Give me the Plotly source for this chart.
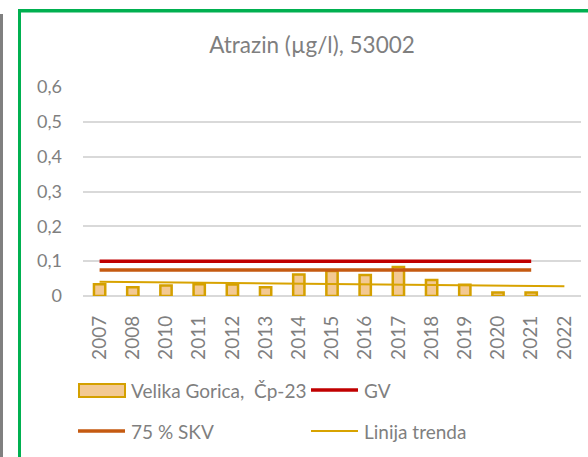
import plotly.graph_objects as go

# ---- data ----
years = ["2007", "2008", "2010", "2011", "2012", "2013", "2014", "2015",
         "2016", "2017", "2018", "2019", "2020", "2021", "2022"]
atrazin = [0.034, 0.025, 0.030, 0.034, 0.033, 0.025, 0.062, 0.072,
           0.060, 0.083, 0.046, 0.032, 0.010, 0.010, None]
gv_years = ["2007", "2021"]
gv_values = [0.1, 0.1]
skv_years = ["2007", "2021"]
skv_values = [0.075, 0.075]
trend_years = ["2007", "2022"]
trend_values = [0.041, 0.028]
y_tickvals = [0, 0.1, 0.2, 0.3, 0.4, 0.5, 0.6]
y_ticktext = ["0", "0,1", "0,2", "0,3", "0,4", "0,5", "0,6"]

title_text = "Atrazin (µg/l), 53002"
name_bar = "Velika Gorica,  Čp-23"
name_gv = "GV"
name_skv = "75 % SKV"
name_trend = "Linija trenda"

# ---- style ----
W, H = 588, 457
ML, MR, MT, MB = 83, 7, 87, 161
PW, PH = W - ML - MR, H - MT - MB
FONT = "Lato"
GRAY = "#7f7f7f"
BAR_FILL = "#F3C993"
BAR_LINE = "#D4A000"
GV_COL = "#C00000"
SKV_COL = "#C55A11"
TREND_COL = "#D8A300"


def px(x):
    return (x - ML) / PW


def py(y):
    return (H - MB - y) / PH


def keep_spaces(s):
    return s.replace("  ", " \u00a0")


fig = go.Figure()
fig.add_trace(go.Bar(x=years, y=atrazin, name=name_bar, width=0.34,
                     marker=dict(color=BAR_FILL, line=dict(color=BAR_LINE, width=2.5)),
                     showlegend=False))
fig.add_trace(go.Scatter(x=gv_years, y=gv_values, name=name_gv, mode="lines",
                         line=dict(color=GV_COL, width=3.5), showlegend=False))
fig.add_trace(go.Scatter(x=skv_years, y=skv_values, name=name_skv, mode="lines",
                         line=dict(color=SKV_COL, width=3.5), showlegend=False))
fig.add_trace(go.Scatter(x=trend_years, y=trend_values, name=name_trend, mode="lines",
                         line=dict(color=TREND_COL, width=2), showlegend=False))

shapes = [
    # gray strip at the far left
    dict(type="rect", xref="paper", yref="paper", x0=px(0), x1=px(3), y0=py(457), y1=py(14),
         fillcolor="#808080", line=dict(width=0), layer="above"),
    # green frame (left and top)
    dict(type="rect", xref="paper", yref="paper", x0=px(18), x1=px(21), y0=py(457), y1=py(9),
         fillcolor="#00B050", line=dict(width=0), layer="above"),
    dict(type="rect", xref="paper", yref="paper", x0=px(18), x1=px(588), y0=py(12.5), y1=py(9),
         fillcolor="#00B050", line=dict(width=0), layer="above"),
    # legend symbols
    dict(type="rect", xref="paper", yref="paper", x0=px(79), x1=px(125), y0=py(397), y1=py(384),
         fillcolor=BAR_FILL, line=dict(color=BAR_LINE, width=2)),
    dict(type="line", xref="paper", yref="paper", x0=px(311), x1=px(358), y0=py(390), y1=py(390),
         line=dict(color=GV_COL, width=3.5)),
    dict(type="line", xref="paper", yref="paper", x0=px(78), x1=px(125), y0=py(431), y1=py(431),
         line=dict(color=SKV_COL, width=3.5)),
    dict(type="line", xref="paper", yref="paper", x0=px(311), x1=px(358), y0=py(431), y1=py(431),
         line=dict(color=TREND_COL, width=2)),
]

legend_font = dict(family=FONT, size=19, color=GRAY)
annotations = [
    dict(text=keep_spaces(name_bar), x=px(129), y=py(390), xref="paper", yref="paper",
         xanchor="left", yanchor="middle", showarrow=False, font=legend_font),
    dict(text=name_gv, x=px(362), y=py(390), xref="paper", yref="paper",
         xanchor="left", yanchor="middle", showarrow=False, font=legend_font),
    dict(text=name_skv, x=px(129), y=py(431), xref="paper", yref="paper",
         xanchor="left", yanchor="middle", showarrow=False, font=legend_font),
    dict(text=name_trend, x=px(362), y=py(431), xref="paper", yref="paper",
         xanchor="left", yanchor="middle", showarrow=False, font=legend_font),
]

fig.update_layout(
    width=W, height=H,
    margin=dict(l=ML, r=MR, t=MT, b=MB, pad=0),
    paper_bgcolor="white", plot_bgcolor="white",
    title=dict(text=title_text, x=312 / W, xref="container", xanchor="center",
               y=1 - 45 / H, yref="container", yanchor="middle",
               font=dict(family=FONT, size=22.5, color=GRAY)),
    showlegend=False,
    shapes=shapes,
    annotations=annotations,
)
fig.update_xaxes(type="category", categoryorder="array", categoryarray=years,
                 tickangle=-90, showgrid=False, showline=False, ticks="",
                 ticklabelstandoff=15,
                 tickfont=dict(family=FONT, size=19, color=GRAY))
fig.update_yaxes(range=[0, 0.6], tickvals=y_tickvals, ticktext=y_ticktext,
                 showgrid=True, gridcolor="#D9D9D9", gridwidth=1.5,
                 zeroline=True, zerolinecolor="#D9D9D9", zerolinewidth=2,
                 showline=False, ticks="", ticklabelstandoff=20,
                 tickfont=dict(family=FONT, size=18, color=GRAY))

fig.write_html(
    "out.html",
    config={"displayModeBar": False},
    post_script="document.body.style.margin='0';document.body.style.overflow='hidden';",
)
